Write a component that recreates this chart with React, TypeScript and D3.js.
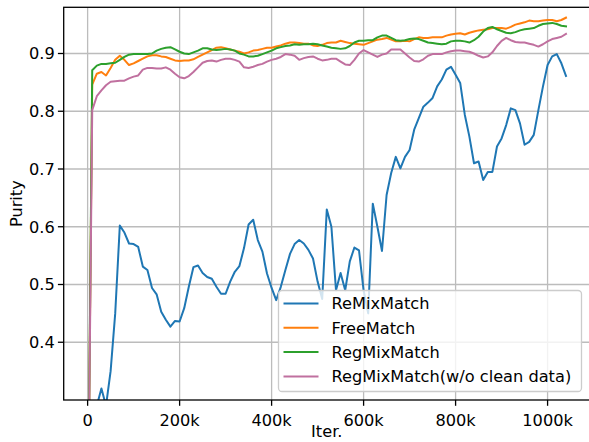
import React from "react";
import * as d3 from "d3";

const iters: number[] = d3.range(0, 1050000, 10000);

const seriesNames = ["ReMixMatch", "FreeMatch", "RegMixMatch", "RegMixMatch(w/o clean data)"];
const seriesColors = ["#1f77b4", "#ff7f0e", "#2ca02c", "#c0709f"];

const remixmatch = [
  0.0, 0.2, 0.29, 0.32, 0.29, 0.35, 0.45, 0.602, 0.59, 0.571,
  0.57, 0.565, 0.531, 0.525, 0.494, 0.483, 0.453, 0.439, 0.427, 0.437,
  0.436, 0.459, 0.496, 0.53, 0.533, 0.52, 0.513, 0.51, 0.496, 0.484,
  0.484, 0.505, 0.522, 0.532, 0.563, 0.604, 0.612, 0.577, 0.557, 0.519,
  0.494, 0.473, 0.496, 0.525, 0.553, 0.57, 0.577, 0.571, 0.56, 0.545,
  0.505, 0.475, 0.63, 0.6, 0.49, 0.52, 0.49, 0.54, 0.564, 0.559,
  0.49, 0.45, 0.64, 0.6, 0.558, 0.655, 0.693, 0.721, 0.701, 0.721,
  0.733, 0.768, 0.788, 0.808, 0.815, 0.823, 0.843, 0.855, 0.872, 0.877,
  0.863, 0.849, 0.794, 0.756, 0.71, 0.713, 0.681, 0.695, 0.695, 0.739,
  0.753, 0.776, 0.805, 0.802, 0.779, 0.742, 0.747, 0.759, 0.802, 0.843,
  0.88, 0.895, 0.899, 0.883, 0.861,
];

const freematch = [
  0.0, 0.846, 0.865, 0.868, 0.862, 0.875, 0.889, 0.896, 0.889, 0.88,
  0.883, 0.887, 0.891, 0.895, 0.897, 0.897, 0.895, 0.894, 0.891, 0.888,
  0.887, 0.888, 0.888, 0.89, 0.894, 0.898, 0.902, 0.906, 0.91, 0.911,
  0.909, 0.907, 0.905, 0.903, 0.9, 0.902, 0.905, 0.906, 0.908, 0.91,
  0.91, 0.912, 0.914, 0.917, 0.919, 0.919, 0.918, 0.917, 0.917, 0.914,
  0.913, 0.915, 0.918, 0.919, 0.919, 0.922, 0.92, 0.918, 0.917, 0.916,
  0.915, 0.918, 0.921, 0.924, 0.925, 0.927, 0.924, 0.921, 0.921, 0.922,
  0.921, 0.925, 0.928, 0.927, 0.927, 0.928, 0.928, 0.928, 0.931, 0.933,
  0.934, 0.935, 0.933, 0.936, 0.938, 0.94, 0.941, 0.942, 0.944, 0.944,
  0.944, 0.943, 0.946, 0.95, 0.952, 0.954, 0.957, 0.956, 0.956, 0.957,
  0.958, 0.958, 0.956, 0.958, 0.962,
];

const regmixmatch = [
  0.0, 0.871, 0.879, 0.882, 0.882, 0.883, 0.884, 0.889, 0.894, 0.898,
  0.899, 0.899, 0.899, 0.899, 0.9, 0.905, 0.908, 0.91, 0.911, 0.907,
  0.903, 0.9, 0.899, 0.902, 0.905, 0.909, 0.909, 0.907, 0.906, 0.907,
  0.908, 0.907, 0.905, 0.9, 0.898, 0.895, 0.895, 0.896, 0.899, 0.902,
  0.905, 0.909, 0.911, 0.913, 0.914, 0.916, 0.915, 0.916, 0.916, 0.917,
  0.916, 0.914, 0.912, 0.91, 0.909, 0.908, 0.909, 0.913, 0.919, 0.922,
  0.922, 0.923, 0.923, 0.928, 0.931, 0.931, 0.927, 0.923, 0.922, 0.923,
  0.925, 0.926, 0.925, 0.922, 0.919, 0.918, 0.917, 0.916, 0.917, 0.921,
  0.922, 0.922, 0.921, 0.919, 0.923, 0.929, 0.938, 0.944, 0.946, 0.942,
  0.939, 0.936, 0.935, 0.937, 0.94, 0.942, 0.943, 0.944, 0.948, 0.951,
  0.952, 0.953, 0.951, 0.948, 0.947,
];

const regmixmatchNoClean = [
  0.0, 0.802, 0.826, 0.836, 0.845, 0.851, 0.852, 0.853, 0.853, 0.857,
  0.86, 0.862, 0.872, 0.875, 0.875, 0.874, 0.874, 0.876, 0.872, 0.865,
  0.859, 0.857, 0.861, 0.868, 0.876, 0.884, 0.887, 0.888, 0.886, 0.889,
  0.891, 0.891, 0.889, 0.886, 0.876, 0.875, 0.877, 0.88, 0.882, 0.886,
  0.889, 0.891, 0.894, 0.899, 0.898, 0.896, 0.889, 0.892, 0.894, 0.895,
  0.891, 0.888, 0.889, 0.891, 0.891, 0.886, 0.881, 0.88, 0.889, 0.9,
  0.906, 0.902, 0.898, 0.894, 0.898, 0.9, 0.907, 0.907, 0.907, 0.9,
  0.893, 0.887, 0.886, 0.89, 0.896, 0.899, 0.899, 0.899, 0.902, 0.904,
  0.905, 0.905, 0.904, 0.903, 0.9, 0.896, 0.893, 0.895, 0.902, 0.913,
  0.922, 0.927, 0.923, 0.92, 0.919, 0.919, 0.917, 0.915, 0.912, 0.916,
  0.921, 0.925, 0.927, 0.929, 0.934,
];

const seriesValues = [remixmatch, freematch, regmixmatch, regmixmatchNoClean];

const xTicks = [0, 200000, 400000, 600000, 800000, 1000000];
const xTickLabels = ["0", "200k", "400k", "600k", "800k", "1000k"];
const yTicks = [0.4, 0.5, 0.6, 0.7, 0.8, 0.9];

const W = 589;
const H = 442;
const FONT = "DejaVu Sans, sans-serif";

export default function App() {
  const left = 63.7;
  const right = 589.9;
  const top = 7.3;
  const bottom = 400;
  const x = d3.scaleLinear().domain([-52000, 1092000]).range([left, right]);
  const y = d3.scaleLinear().domain([0.3, 0.98]).range([bottom, top]);
  const line = d3
    .line<[number, number]>()
    .x((d) => x(d[0]))
    .y((d) => y(d[1]));

  const fs = 16.2;
  const gridColor = "#bcbcbc";

  const legX = 278.5;
  const legY = 290.5;
  const legW = 303;
  const legH = 101;
  const rowH = 24.3;

  return (
    <svg
      width={W}
      height={H}
      style={{ position: "absolute", left: 0, top: 0, background: "#fff" }}
      fontFamily={FONT}
    >
      <rect x={0} y={0} width={W} height={H} fill="#fff" />
      <defs>
        <clipPath id="plotclip">
          <rect x={left} y={top} width={right - left} height={bottom - top} />
        </clipPath>
      </defs>
      {xTicks.map((t) => (
        <line key={"gx" + t} x1={x(t)} x2={x(t)} y1={top} y2={bottom} stroke={gridColor} strokeWidth={1.3} />
      ))}
      {yTicks.map((t) => (
        <line key={"gy" + t} x1={left} x2={right} y1={y(t)} y2={y(t)} stroke={gridColor} strokeWidth={1.3} />
      ))}
      <g clipPath="url(#plotclip)">
        {seriesValues.map((vals, i) => (
          <path
            key={seriesNames[i]}
            d={line(vals.map((v, j) => [iters[j], v] as [number, number])) || ""}
            fill="none"
            stroke={seriesColors[i]}
            strokeWidth={2.0}
            strokeLinejoin="round"
            strokeLinecap="square"
          />
        ))}
      </g>
      <rect x={left} y={top} width={right - left} height={bottom - top} fill="none" stroke="#000" strokeWidth={1.3} />
      {xTicks.map((t, i) => (
        <g key={"xt" + t}>
          <line x1={x(t)} x2={x(t)} y1={bottom} y2={bottom + 5.8} stroke="#000" strokeWidth={1.3} />
          <text x={x(t)} y={bottom + 26} textAnchor="middle" fontSize={fs} fill="#000">
            {xTickLabels[i]}
          </text>
        </g>
      ))}
      {yTicks.map((t) => (
        <g key={"yt" + t}>
          <line x1={left - 5.8} x2={left} y1={y(t)} y2={y(t)} stroke="#000" strokeWidth={1.3} />
          <text x={left - 9} y={y(t)} dy="0.36em" textAnchor="end" fontSize={fs} fill="#000">
            {t.toFixed(1)}
          </text>
        </g>
      ))}
      <text x={(left + right) / 2} y={437} textAnchor="middle" fontSize={fs} fill="#000">
        Iter.
      </text>
      <text
        transform={`translate(${22},${(top + bottom) / 2}) rotate(-90)`}
        textAnchor="middle"
        fontSize={fs}
        fill="#000"
      >
        Purity
      </text>
      <rect
        x={legX}
        y={legY}
        width={legW}
        height={legH}
        rx={3.5}
        fill="#fff"
        fillOpacity={0.8}
        stroke="#cccccc"
        strokeWidth={1.3}
      />
      {seriesNames.map((name, i) => {
        const cy = legY + 13 + i * rowH;
        return (
          <g key={"leg" + name}>
            <line x1={legX + 5} x2={legX + 40} y1={cy} y2={cy} stroke={seriesColors[i]} strokeWidth={2.0} />
            <text x={legX + 53} y={cy} dy="0.36em" fontSize={fs} fill="#000">
              {name}
            </text>
          </g>
        );
      })}
    </svg>
  );
}
